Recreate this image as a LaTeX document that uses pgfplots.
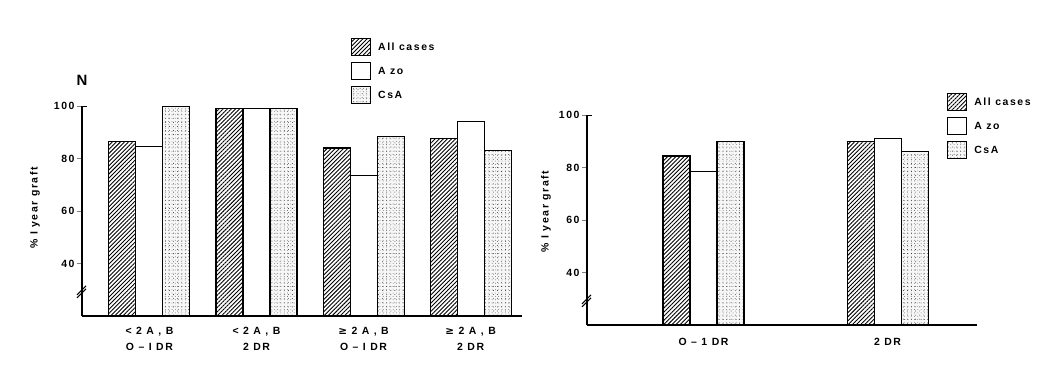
\documentclass[border=0pt]{standalone}
\usepackage{fontspec}
\setmainfont{Liberation Sans}[LetterSpace=15]
\newfontfamily\dejavu{DejaVu Sans}[LetterSpace=15]
\usepackage{pgfplots}
\pgfplotsset{compat=1.18}
\usetikzlibrary{patterns,patterns.meta}

\pgfplotsset{
  allcases/.style={draw=black, line width=1.1bp, preaction={fill=white},
    pattern={Lines[angle=45,distance=2.9bp,line width=0.9bp]}, pattern color=black},
  azo/.style={draw=black, line width=1.1bp, fill=white},
  csa/.style={draw=black, line width=1.1bp, preaction={fill=gray!6},
    postaction={pattern={Dots[distance=4.1bp,radius=0.45bp,xshift=1.3bp,yshift=0.6bp]}, pattern color=black!85},
    pattern={Dots[distance=3.3bp,radius=0.4bp,xshift=0.4bp]}, pattern color=black!70},
  panel/.style={
    scale only axis, ybar=0pt, bar width=27bp,
    ymin=20, ymax=100, enlargelimits=false,
    axis x line*=bottom, axis y line*=left,
    axis line style={line width=1.1bp},
    ytick={40,60,80,100}, tick align=outside, major tick length=5bp,
    y tick style={line width=1bp},
    x tick style={draw=none},
    clip mode=individual,
    /pgf/number format/assume math mode=true,
    tick label style={font=\bfseries\fontsize{10.5}{12}\selectfont},
    yticklabel style={xshift=1bp},
    xticklabel style={align=center, yshift=-3bp},
    label style={font=\bfseries\fontsize{10.5}{12}\selectfont},
    legend image code/.code={\draw[##1] (0bp,-8.5bp) rectangle (19bp,8.5bp);},
    legend cell align=left,
    legend style={draw=none, fill=none, anchor=north west, inner sep=0pt,
      row sep=6bp, font=\bfseries\fontsize{10.5}{12}\selectfont,
      nodes={inner xsep=7bp}},
  },
}

\begin{document}
\begin{tikzpicture}
\path[use as bounding box] (0bp,0bp) rectangle (1063bp,369bp);

% Left panel
\begin{axis}[panel,
  at={(82bp,53bp)}, anchor=south west,
  width=440bp, height=210bp,
  xmin=-0.63, xmax=3.48,
  xtick={0,1,2,3},
  xticklabels={{< 2 A , B\\[4bp]O -- I DR},{< 2 A , B\\[4bp]2 DR},{{\dejavu ≥} 2 A , B\\[4bp]O -- I DR},{{\dejavu ≥} 2 A , B\\[4bp]2 DR}},
  ylabel={\% I year graft},
  ylabel style={at={(axis description cs:-0.107,0.515)}, anchor=center},
  legend style={at={(0.611,1.324)}},
]
\addplot[allcases] coordinates {(0,86.6) (1,99) (2,84) (3,87.5)};
\addplot[azo] coordinates {(0,84.7) (1,99) (2,73.6) (3,94)};
\addplot[csa] coordinates {(0,99.7) (1,99) (2,88.5) (3,83)};
\legend{All cases, A zo, CsA}
\node[font=\bfseries\fontsize{15}{17}\selectfont] at (rel axis cs:0,1.124) {N};
\draw[line width=1bp] (rel axis cs:0,1) -- ++(5bp,0bp);
\draw[line width=1bp] ([xshift=-5bp,yshift=-7bp]rel axis cs:0,0.12) -- ++(9bp,9bp);
\draw[line width=1bp] ([xshift=-5bp,yshift=-4bp]rel axis cs:0,0.12) -- ++(9bp,9bp);
\end{axis}

% Right panel
\begin{axis}[panel,
  at={(587bp,44bp)}, anchor=south west,
  width=390bp, height=210bp,
  xmin=-0.633, xmax=1.486,
  xtick={0,1},
  xticklabels={{O -- 1 DR},{2 DR}},
  xticklabel style={yshift=-2bp},
  ylabel={\% I year graft},
  ylabel style={at={(axis description cs:-0.105,0.54)}, anchor=center},
  legend style={at={(0.923,1.105)}},
]
\addplot[allcases] coordinates {(0,84.4) (1,90)};
\addplot[azo] coordinates {(0,78.6) (1,91.2)};
\addplot[csa] coordinates {(0,90) (1,86)};
\legend{All cases, A zo, CsA}
\draw[line width=1bp] (rel axis cs:0,1) -- ++(5bp,0bp);
\draw[line width=1bp] ([xshift=-5bp,yshift=-7bp]rel axis cs:0,0.12) -- ++(9bp,9bp);
\draw[line width=1bp] ([xshift=-5bp,yshift=-4bp]rel axis cs:0,0.12) -- ++(9bp,9bp);
\end{axis}
\end{tikzpicture}
\end{document}
